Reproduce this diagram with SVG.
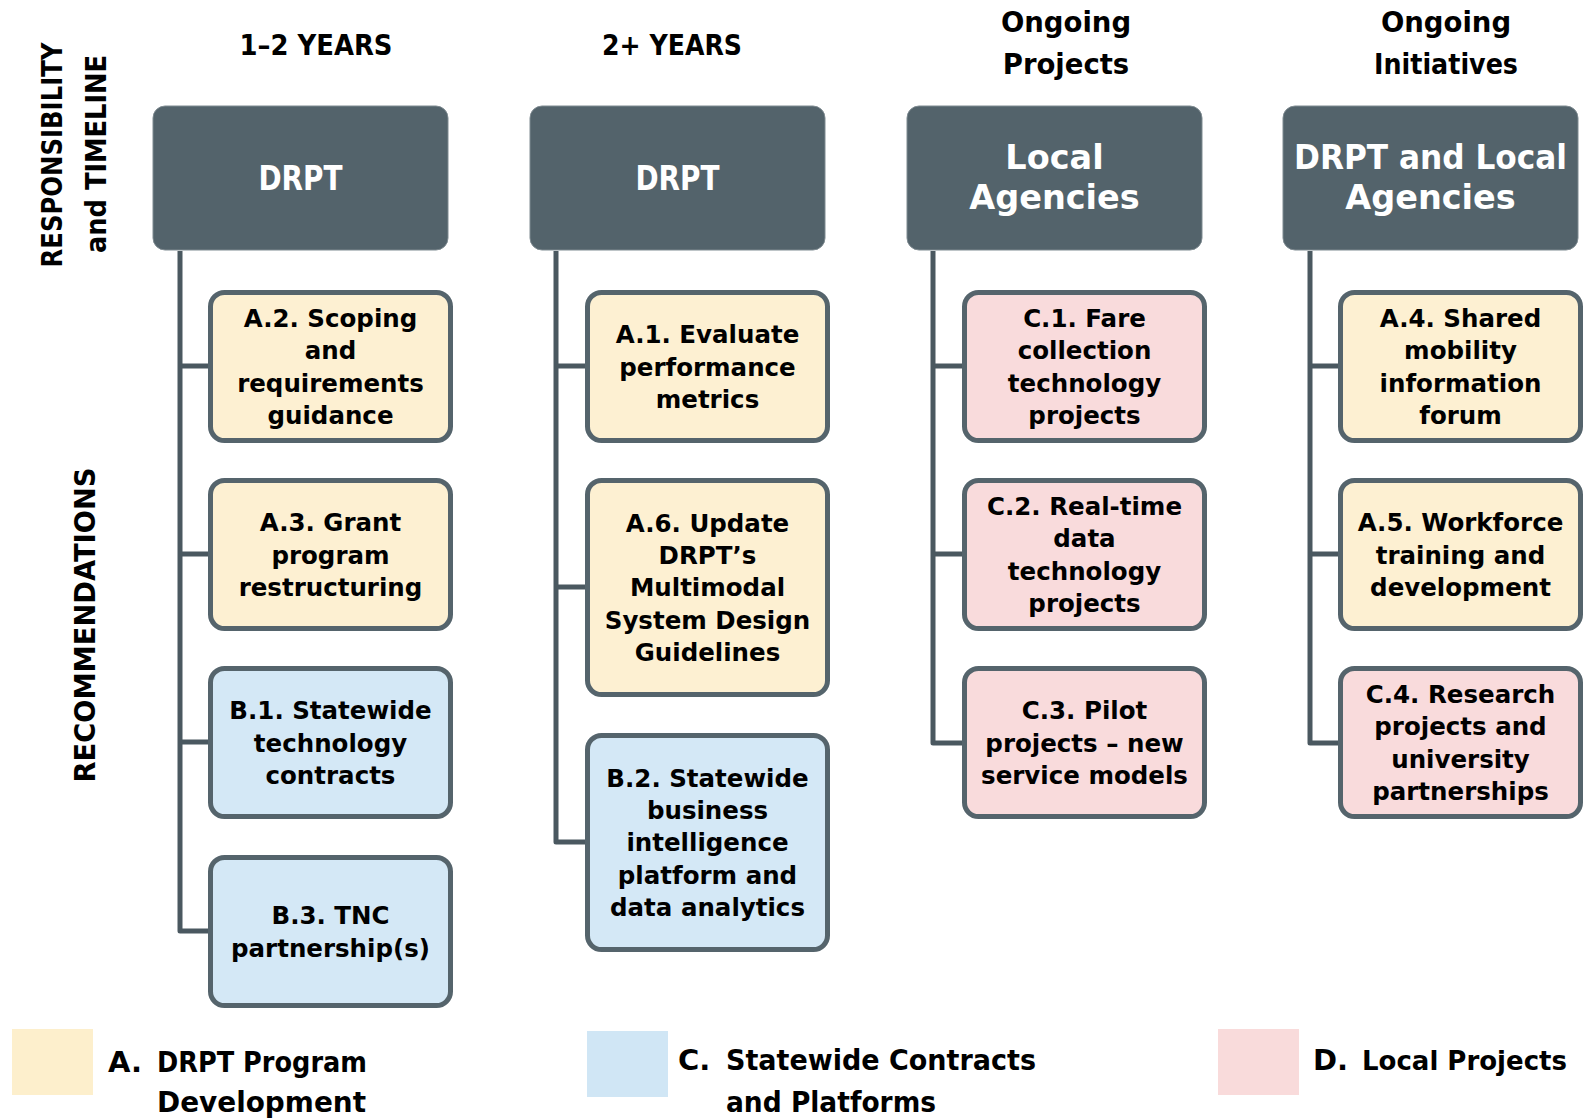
<svg xmlns="http://www.w3.org/2000/svg" width="1585" height="1120" viewBox="0 0 1585 1120">
<style>
.hdr{fill:#53636b;stroke:#7f8b91;stroke-width:1}
.box{stroke:#55646c;stroke-width:5}
.y{fill:#fdf0d2}
.b{fill:#d4e8f6}
.p{fill:#f9dbdc}
.t{font-family:"DejaVu Sans",sans-serif;font-weight:bold;font-size:24.5px;fill:#000;text-anchor:middle}
.ht{font-family:"DejaVu Sans",sans-serif;font-weight:bold;font-size:33.5px;fill:#fff;text-anchor:middle}
.ti{font-family:"DejaVu Sans",sans-serif;font-weight:bold;font-size:29px;fill:#000;text-anchor:middle}
.rl{font-family:"DejaVu Sans",sans-serif;font-weight:bold;font-size:28px;fill:#000;text-anchor:middle}
.tm{font-family:"DejaVu Sans",sans-serif;font-weight:bold;font-size:27.5px;fill:#000;text-anchor:middle}
.lg{font-family:"DejaVu Sans",sans-serif;font-weight:bold;font-size:29px;fill:#000}
.conn{fill:none;stroke:#4a5860;stroke-width:5;stroke-linejoin:round}
</style>
<rect width="1585" height="1120" fill="#fff"/>

<g id="side-labels">
<text class="rl" transform="translate(62,155) rotate(-90)" textLength="225" lengthAdjust="spacingAndGlyphs">RESPONSIBILITY</text>
<text class="rl" transform="translate(106,154) rotate(-90)" textLength="198" lengthAdjust="spacingAndGlyphs">and TIMELINE</text>
<text class="rl" transform="translate(95,625) rotate(-90)" textLength="315" lengthAdjust="spacingAndGlyphs">RECOMMENDATIONS</text>
</g>

<g id="titles">
<text class="ti" x="316" y="55" textLength="153" lengthAdjust="spacingAndGlyphs">1–2 YEARS</text>
<text class="ti" x="672" y="55" textLength="140" lengthAdjust="spacingAndGlyphs">2+ YEARS</text>
<text class="tm" x="1066" y="32">Ongoing</text>
<text class="tm" x="1066" y="74">Projects</text>
<text class="tm" x="1446" y="32">Ongoing</text>
<text class="tm" x="1446" y="74" textLength="144" lengthAdjust="spacingAndGlyphs">Initiatives</text>
</g>

<g id="connectors">
<path class="conn" d="M180 251 V931 H210 M180 366 H210 M180 554 H210 M180 742 H210"/>
<path class="conn" d="M556 251 V842 H587 M556 366 H587 M556 587 H587"/>
<path class="conn" d="M933 251 V743 H964 M933 366 H964 M933 554 H964"/>
<path class="conn" d="M1310 251 V743 H1340 M1310 366 H1340 M1310 554 H1340"/>
</g>

<g id="hdr-1"><rect class="hdr" x="153" y="106" width="295" height="144" rx="12"/><text class="ht" x="300.5" y="190" textLength="84" lengthAdjust="spacingAndGlyphs">DRPT</text></g>
<g id="hdr-2"><rect class="hdr" x="530" y="106" width="295" height="144" rx="12"/><text class="ht" x="677.5" y="190" textLength="84" lengthAdjust="spacingAndGlyphs">DRPT</text></g>
<g id="hdr-3"><rect class="hdr" x="907" y="106" width="295" height="144" rx="12"/><text class="ht" x="1054.5" y="169">Local</text><text class="ht" x="1054.5" y="209">Agencies</text></g>
<g id="hdr-4"><rect class="hdr" x="1283" y="106" width="295" height="144" rx="12"/><text class="ht" x="1430.5" y="169" textLength="273" lengthAdjust="spacingAndGlyphs">DRPT and Local</text><text class="ht" x="1430.5" y="209">Agencies</text></g>

<g id="A2"><rect class="box y" x="210.5" y="292.5" width="240" height="148" rx="14"/>
<text class="t" x="330.5" y="327">A.2. Scoping</text><text class="t" x="330.5" y="359">and</text><text class="t" x="330.5" y="392">requirements</text><text class="t" x="330.5" y="424">guidance</text></g>
<g id="A3"><rect class="box y" x="210.5" y="480.5" width="240" height="148" rx="14"/>
<text class="t" x="330.5" y="531">A.3. Grant</text><text class="t" x="330.5" y="564">program</text><text class="t" x="330.5" y="596">restructuring</text></g>
<g id="B1"><rect class="box b" x="210.5" y="668.5" width="240" height="148" rx="14"/>
<text class="t" x="330.5" y="719">B.1. Statewide</text><text class="t" x="330.5" y="752">technology</text><text class="t" x="330.5" y="784">contracts</text></g>
<g id="B3"><rect class="box b" x="210.5" y="857.5" width="240" height="148" rx="14"/>
<text class="t" x="330.5" y="924">B.3. TNC</text><text class="t" x="330.5" y="957">partnership(s)</text></g>

<g id="A1"><rect class="box y" x="587.5" y="292.5" width="240" height="148" rx="14"/>
<text class="t" x="707.5" y="343">A.1. Evaluate</text><text class="t" x="707.5" y="376">performance</text><text class="t" x="707.5" y="408">metrics</text></g>
<g id="A6"><rect class="box y" x="587.5" y="480.5" width="240" height="214" rx="14"/>
<text class="t" x="707.5" y="532">A.6. Update</text><text class="t" x="707.5" y="564">DRPT’s</text><text class="t" x="707.5" y="596">Multimodal</text><text class="t" x="707.5" y="629">System Design</text><text class="t" x="707.5" y="661">Guidelines</text></g>
<g id="B2"><rect class="box b" x="587.5" y="735.5" width="240" height="214" rx="14"/>
<text class="t" x="707.5" y="787">B.2. Statewide</text><text class="t" x="707.5" y="819">business</text><text class="t" x="707.5" y="851">intelligence</text><text class="t" x="707.5" y="884">platform and</text><text class="t" x="707.5" y="916">data analytics</text></g>

<g id="C1"><rect class="box p" x="964.5" y="292.5" width="240" height="148" rx="14"/>
<text class="t" x="1084.5" y="327">C.1. Fare</text><text class="t" x="1084.5" y="359">collection</text><text class="t" x="1084.5" y="392">technology</text><text class="t" x="1084.5" y="424">projects</text></g>
<g id="C2"><rect class="box p" x="964.5" y="480.5" width="240" height="148" rx="14"/>
<text class="t" x="1084.5" y="515">C.2. Real-time</text><text class="t" x="1084.5" y="547">data</text><text class="t" x="1084.5" y="580">technology</text><text class="t" x="1084.5" y="612">projects</text></g>
<g id="C3"><rect class="box p" x="964.5" y="668.5" width="240" height="148" rx="14"/>
<text class="t" x="1084.5" y="719">C.3. Pilot</text><text class="t" x="1084.5" y="752">projects – new</text><text class="t" x="1084.5" y="784">service models</text></g>

<g id="A4"><rect class="box y" x="1340.5" y="292.5" width="240" height="148" rx="14"/>
<text class="t" x="1460.5" y="327">A.4. Shared</text><text class="t" x="1460.5" y="359">mobility</text><text class="t" x="1460.5" y="392">information</text><text class="t" x="1460.5" y="424">forum</text></g>
<g id="A5"><rect class="box y" x="1340.5" y="480.5" width="240" height="148" rx="14"/>
<text class="t" x="1460.5" y="531">A.5. Workforce</text><text class="t" x="1460.5" y="564">training and</text><text class="t" x="1460.5" y="596">development</text></g>
<g id="C4"><rect class="box p" x="1340.5" y="668.5" width="240" height="148" rx="14"/>
<text class="t" x="1460.5" y="703">C.4. Research</text><text class="t" x="1460.5" y="735">projects and</text><text class="t" x="1460.5" y="768">university</text><text class="t" x="1460.5" y="800">partnerships</text></g>

<g id="legend">
<rect x="12" y="1029" width="81" height="66" fill="#fdefcc"/>
<text class="lg" x="108" y="1072">A.</text>
<text class="lg" x="157" y="1072" textLength="210" lengthAdjust="spacingAndGlyphs">DRPT Program</text>
<text class="lg" x="157" y="1112" textLength="209" lengthAdjust="spacingAndGlyphs">Development</text>
<rect x="587" y="1031" width="81" height="66" fill="#d0e6f5"/>
<text class="lg" x="678" y="1070">C.</text>
<text class="lg" x="726" y="1070" textLength="310" lengthAdjust="spacingAndGlyphs">Statewide Contracts</text>
<text class="lg" x="726" y="1112" textLength="210" lengthAdjust="spacingAndGlyphs">and Platforms</text>
<rect x="1218" y="1029" width="81" height="66" fill="#f9dbdb"/>
<text class="lg" x="1313" y="1070">D.</text>
<text class="lg" x="1362" y="1070" style="font-size:27px" textLength="205" lengthAdjust="spacingAndGlyphs">Local Projects</text>
</g>
</svg>
